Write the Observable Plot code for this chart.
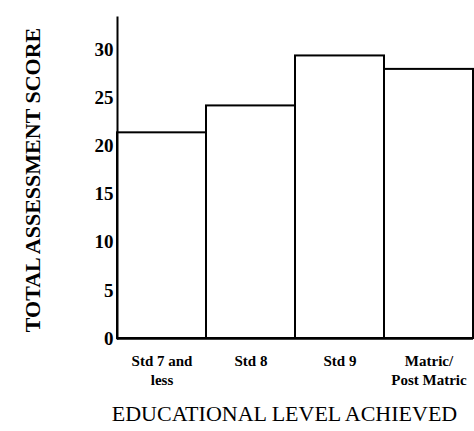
<!DOCTYPE html>
<html><head><meta charset="utf-8">
<script src="https://cdn.jsdelivr.net/npm/d3@7"></script>
<script src="https://cdn.jsdelivr.net/npm/@observablehq/plot@0.6"></script>
<style>body{margin:0;background:#fff}</style>
</head><body><div id="chart"></div>
<script>
const categories = ["Std 7 and\nless", "Std 8", "Std 9", "Matric/\nPost Matric"];
const scores = [21.4, 24.2, 29.4, 28.0];
const yTicks = [0, 5, 10, 15, 20, 25, 30];
const xTitle = "EDUCATIONAL LEVEL ACHIEVED";
const yTitle = "TOTAL ASSESSMENT SCORE";

const data = categories.map((c, i) => ({level: c, score: scores[i]}));

const chart = Plot.plot({
  width: 474, height: 431,
  marginLeft: 117, marginRight: 1, marginTop: 17, marginBottom: 93,
  style: {fontFamily: "Liberation Serif", background: "#fff", color: "#000"},
  x: {domain: categories, padding: 0, round: false, axis: null},
  y: {domain: [0, 33.4], axis: null},
  marks: [
    Plot.barY(data, {x: "level", y: "score", fill: "white", stroke: "black", strokeWidth: 2}),
    Plot.frame({anchor: "left", strokeWidth: 2}),
    Plot.ruleY([0], {strokeWidth: 2.5}),
    Plot.axisY({ticks: yTicks, tickSize: 0, tickPadding: 4, fontSize: 19, fontWeight: "bold", label: null}),
    Plot.axisX({tickSize: 0, tickPadding: 14, fontSize: 15, fontWeight: "bold", lineHeight: 1.25, label: null}),
    Plot.text([xTitle], {frameAnchor: "bottom", textAnchor: "middle", dy: 82, dx: -11, fontSize: 22}),
    Plot.text([yTitle], {frameAnchor: "left", textAnchor: "middle", rotate: -90, dx: -85, dy: 2, fontSize: 22, fontWeight: "bold"})
  ]
});
document.getElementById("chart").append(chart);
</script>
</body></html>
